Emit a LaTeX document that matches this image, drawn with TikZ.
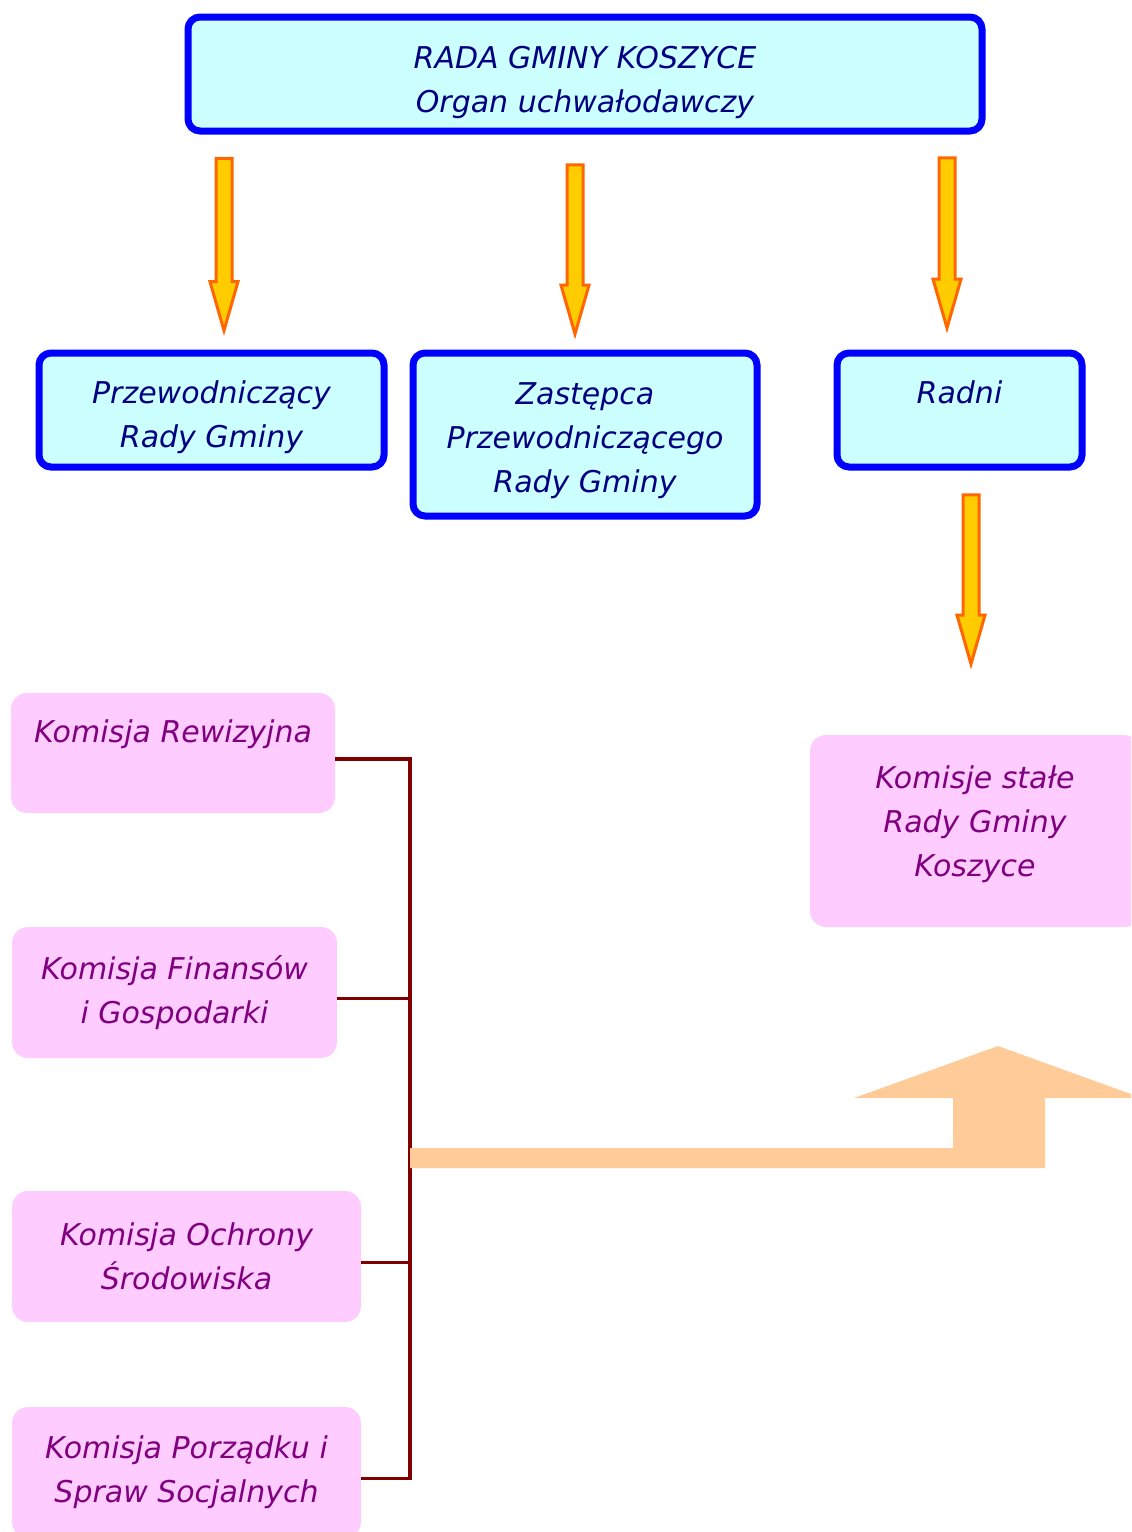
\documentclass[tikz,border=0pt]{standalone}
\usepackage{fontspec}
\setmainfont{DejaVu Sans}
\usetikzlibrary{calc,positioning,shapes.arrows}
\definecolor{boxblue}{HTML}{0000FF}
\definecolor{boxfill}{HTML}{CCFFFF}
\definecolor{navytext}{HTML}{000080}
\definecolor{pinkfill}{HTML}{FFCCFF}
\definecolor{purpletext}{HTML}{800080}
\definecolor{linkred}{HTML}{800000}
\definecolor{arrowfill}{HTML}{FFCC00}
\definecolor{arrowline}{HTML}{FF6600}
\definecolor{peach}{HTML}{FFCC99}
\begin{document}
\begin{tikzpicture}[x=0.5pt,y=-0.5pt]
    \tikzstyle{every node}=[font=\fontsize{15pt}{22pt}\selectfont\itshape]
    \tikzstyle{organ}=[rectangle,rounded corners=6pt,draw=boxblue,line width=3.5pt,fill=boxfill,text=navytext,align=center,inner sep=0]
    \tikzstyle{komisja}=[rectangle,rounded corners=8pt,fill=pinkfill,text=purpletext,align=center,inner sep=0]
    \tikzstyle{down}=[single arrow,shape border rotate=270,draw=arrowline,fill=arrowfill,line width=1.5pt,inner sep=3.25pt,single arrow head extend=3pt,single arrow tip angle=32]
    \tikzstyle{link}=[draw=linkred,line width=1.6pt]
    \clip (0,0) rectangle (1131,1532);
    % rada i prezydium
    \node[organ,minimum width=397pt,minimum height=57pt] (rada) at (585,74) {\rule{0pt}{19.4pt}RADA GMINY KOSZYCE\\Organ uchwałodawczy};
    \node[organ,minimum width=172.5pt,minimum height=57pt] (przew) at (211.5,410) {\rule{0pt}{18.4pt}Przewodniczący\\Rady Gminy};
    \node[organ,minimum width=172pt,minimum height=81.5pt] (zast) at (585,434.5) {\rule{0pt}{17.4pt}Zastępca\\Przewodniczącego\\Rady Gminy};
    \node[organ,minimum width=122.5pt,minimum height=57pt] (radni) at (959.5,410) {\rule{0pt}{15.4pt}Radni\\\mbox{}};
    \node[down,minimum height=86pt] (a1) at (224,230.5) {};
    \node[down,minimum height=84.5pt] (a2) at (575,235.5) {};
    \node[down,minimum height=85pt] (a3) at (947,229) {};
    \node[down,minimum height=84.5pt] (a4) at (971,565.5) {};
    % komisje
    \node[komisja,minimum width=165pt,minimum height=96pt] (stale) at (975,831) {Komisje stałe\\Rady Gminy\\Koszyce\\[-12pt]\mbox{}};
    \node[komisja,minimum width=162pt,minimum height=60pt] (rew) at (173,753) {Komisja Rewizyjna\\\mbox{}};
    \node[komisja,minimum width=162.5pt,minimum height=65.5pt] (fin) at (174.5,992.5) {Komisja Finansów\\i Gospodarki};
    \node[komisja,minimum width=174.5pt,minimum height=65.5pt] (ochr) at (186.5,1256.5) {Komisja Ochrony\\Środowiska};
    \node[komisja,minimum width=174.5pt,minimum height=65.5pt] (porz) at (186.5,1472.5) {Komisja Porządku i\\Spraw Socjalnych};
    \coordinate (spine) at (410,0);
    \coordinate (c1) at ([yshift=-3pt]rew.east);
    \coordinate (c2) at ([yshift=-3pt]fin.east);
    \coordinate (c3) at ([yshift=-3pt]ochr.east);
    \coordinate (c4) at ([yshift=-3pt]porz.east);
    \draw[link] (c1) -| (c4 -| spine) -- (c4);
    \draw[link] (c2) -- (c2 -| spine);
    \draw[link] (c3) -- (c3 -| spine);
    % strzalka do komisji stalych
    \fill[peach] (410,1148) -- (953,1148) -- (953,1098) -- (854,1098) -- (998,1046)
        -- (1142,1098) -- (1045,1098) -- (1045,1168) -- (410,1168) -- cycle;
\end{tikzpicture}
\end{document}
